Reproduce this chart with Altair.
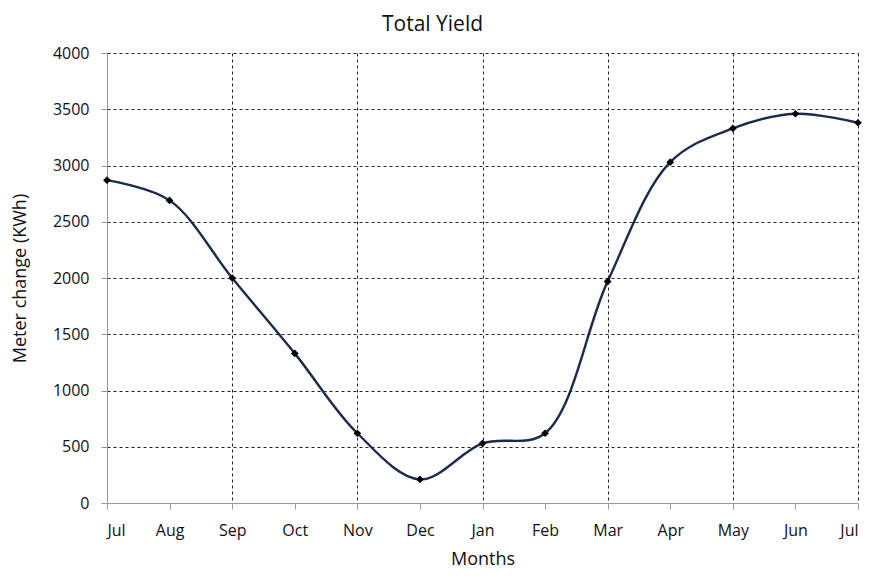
import altair as alt
import pandas as pd

months = ["Jul", "Aug", "Sep", "Oct", "Nov", "Dec", "Jan", "Feb", "Mar", "Apr", "May", "Jun", "Jul"]
values = [2870, 2690, 2000, 1330, 620, 210, 530, 620, 1970, 3030, 3330, 3460, 3380]

df = pd.DataFrame({"idx": list(range(len(months))), "month": months, "value": values})

label_expr = "[" + ",".join("'%s'" % m for m in months) + "][datum.value]"
FONT = "Open Sans"

x = alt.X(
    "idx:Q",
    scale=alt.Scale(domain=[0, 12], nice=False, zero=False),
    axis=alt.Axis(
        title="Months",
        values=list(range(13)),
        labelExpr=label_expr,
        grid=True,
        gridColor="#222222",
        gridDash=[3, 3],
        gridOpacity={"condition": {"test": "datum.value % 2 === 0 && datum.value > 0", "value": 1}, "value": 0},
        domainColor="#999999",
        tickColor="#999999",
        tickSize=6,
        labelPadding=13,
        titlePadding=12,
    ),
)
y = alt.Y(
    "value:Q",
    scale=alt.Scale(domain=[0, 4000], nice=False),
    axis=alt.Axis(
        title="Meter change (KWh)",
        values=list(range(0, 4001, 500)),
        format="d",
        grid=True,
        gridColor="#222222",
        gridDash=[3, 3],
        gridOpacity={"condition": {"test": "datum.value > 0", "value": 1}, "value": 0},
        domainColor="#999999",
        tickColor="#999999",
        tickSize=6,
        labelPadding=12,
        titlePadding=23,
    ),
)

base = alt.Chart(df)
line = base.mark_line(interpolate="catmull-rom", color="#1c2b4a", strokeWidth=2.4).encode(x=x, y=y)
pts = base.mark_point(shape="diamond", filled=True, color="#000000", size=60, opacity=1).encode(x=x, y=y)

chart = (
    alt.layer(line, pts)
    .properties(
        width=751,
        height=450,
        autosize=alt.AutoSizeParams(type="none"),
        padding={"left": 99, "top": 45, "right": 9, "bottom": 67},
        title=alt.Title("Total Yield", fontSize=21, fontWeight="normal", font=FONT,
                        anchor="middle", dx=-50, offset=10, color="#111111"),
    )
    .configure_view(stroke=None)
    .configure_axis(labelFont=FONT, titleFont=FONT, labelFontSize=16, titleFontSize=18,
                    titleFontWeight="normal", labelColor="#111111", titleColor="#111111")
)

chart.save("out.html", embed_options={"renderer": "svg", "actions": False})
